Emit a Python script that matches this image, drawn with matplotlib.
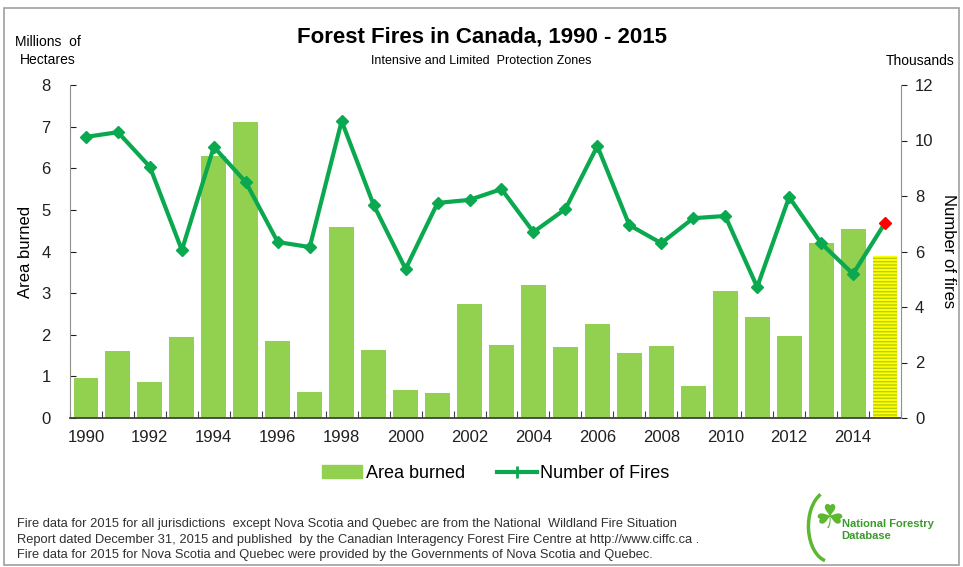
import matplotlib
matplotlib.use("Agg")
import matplotlib.pyplot as plt
from matplotlib.lines import Line2D
from matplotlib.patches import Patch, Rectangle, Arc

plt.rcParams["font.family"] = ["Liberation Sans", "DejaVu Sans"]

years = list(range(1990, 2016))
area_burned = [0.96, 1.6, 0.87, 1.95, 6.3, 7.1, 1.85, 0.63, 4.6, 1.63,
               0.67, 0.6, 2.75, 1.75, 3.2, 1.7, 2.25, 1.55, 1.72, 0.77,
               3.05, 2.42, 1.98, 4.2, 4.55, 3.9]
num_fires = [10.13, 10.3, 9.05, 6.05, 9.77, 8.5, 6.34, 6.16, 10.7, 7.68,
             5.37, 7.75, 7.86, 8.25, 6.7, 7.53, 9.8, 6.95, 6.3, 7.2,
             7.28, 4.72, 7.96, 6.3, 5.19, 7.03]
tick_years = list(range(1990, 2015, 2))

BAR = "#92d050"
LINE = "#0aa84f"
GREY = "#404040"

fig = plt.figure(figsize=(9.63, 5.67), dpi=100)
fig.patches.append(Rectangle((0.004, 0.004), 0.992, 0.982, transform=fig.transFigure,
                             fill=False, edgecolor="#a0a0a0", linewidth=1.2))

ax = fig.add_axes([70 / 963, 1 - 418 / 567, 831 / 963, 333 / 567])
x = list(range(len(years)))

ax.bar(x[:-1], area_burned[:-1], width=0.78, color=BAR, zorder=2)
ax.bar(x[-1], area_burned[-1], width=0.78, color="#ffff00", edgecolor="#b8cc10",
       hatch="-----", linewidth=0, zorder=2)
ax.set_xlim(-0.5, len(years) - 0.5)
ax.set_ylim(0, 8)
ax.set_yticks(range(0, 9))
ax.set_xticks([i - 0.5 for i in range(len(years) + 1)], minor=False)
ax.set_xticklabels([])
ax.set_xticks([years.index(y) for y in tick_years], minor=True)
ax.set_xticklabels([str(y) for y in tick_years], minor=True, fontsize=12, color="#202020")
ax.tick_params(axis="x", which="minor", length=0, pad=9)
ax.tick_params(axis="x", which="major", length=5, direction="in", color=GREY)
ax.tick_params(axis="y", labelsize=12, colors="#202020", length=4, direction="in", pad=14)
ax.spines["top"].set_visible(False)
ax.spines["left"].set_color("#909090")
ax.spines["right"].set_visible(False)
ax.spines["bottom"].set_color(GREY)
ax.spines["bottom"].set_linewidth(1.3)
ax.set_ylabel("Area burned", fontsize=12, labelpad=6)

ax2 = ax.twinx()
ax2.plot(x, num_fires, color=LINE, lw=3, zorder=3)
ax2.plot(x[:-1], num_fires[:-1], "D", color=LINE, ms=6.5, zorder=4)
ax2.plot(x[-1], num_fires[-1], "D", color="#ff0000", ms=6.5, zorder=4)
ax2.set_ylim(0, 12)
ax2.set_yticks(range(0, 13, 2))
ax2.tick_params(axis="y", labelsize=12, colors="#202020", length=4, direction="out", pad=6)
ax2.spines["top"].set_visible(False)
ax2.spines["left"].set_visible(False)
ax2.spines["bottom"].set_visible(False)
ax2.spines["right"].set_color("#909090")
ax2.set_ylabel("Number of fires", fontsize=12, rotation=270, labelpad=16)

fig.text(0.5, 0.935, "Forest Fires in Canada, 1990 - 2015", ha="center", va="center",
         fontsize=16, fontweight="bold")
fig.text(0.5, 0.892, "Intensive and Limited  Protection Zones", ha="center", va="center", fontsize=9)
fig.text(0.05, 0.91, "Millions  of\nHectares", ha="center", va="center", fontsize=10,
         linespacing=1.3)
fig.text(0.955, 0.892, "Thousands", ha="center", va="center", fontsize=10)

handles = [Patch(color=BAR, label="Area burned"),
           Line2D([0], [0], color=LINE, lw=3, marker="+", ms=8, mew=2, label="Number of Fires")]
fig.legend(handles=handles, loc="center", bbox_to_anchor=(0.515, 0.165), ncol=2, frameon=False,
           fontsize=13, handlelength=2.2, handletextpad=0.2, columnspacing=1.8)

note = ("Fire data for 2015 for all jurisdictions  except Nova Scotia and Quebec are from the National  Wildland Fire Situation\n"
        "Report dated December 31, 2015 and published  by the Canadian Interagency Forest Fire Centre at http://www.ciffc.ca .\n"
        "Fire data for 2015 for Nova Scotia and Quebec were provided by the Governments of Nova Scotia and Quebec.")
fig.text(0.018, 0.048, note, ha="left", va="center", fontsize=9.3, linespacing=1.4, color="#303030")

fig.patches.append(Arc((0.862, 0.072), 0.045, 0.125, theta1=100, theta2=265, transform=fig.transFigure,
                       color="#5cb82e", lw=2.5))
fig.text(0.846, 0.085, "\u2618", fontsize=24, color="#5cb82e", ha="left", va="center",
         family=["DejaVu Sans"])
fig.text(0.874, 0.065, "National Forestry\nDatabase", fontsize=8, fontweight="bold", color="#3a9a2a",
         ha="left", va="center", linespacing=1.2)

fig.savefig("out.png", dpi=100)
